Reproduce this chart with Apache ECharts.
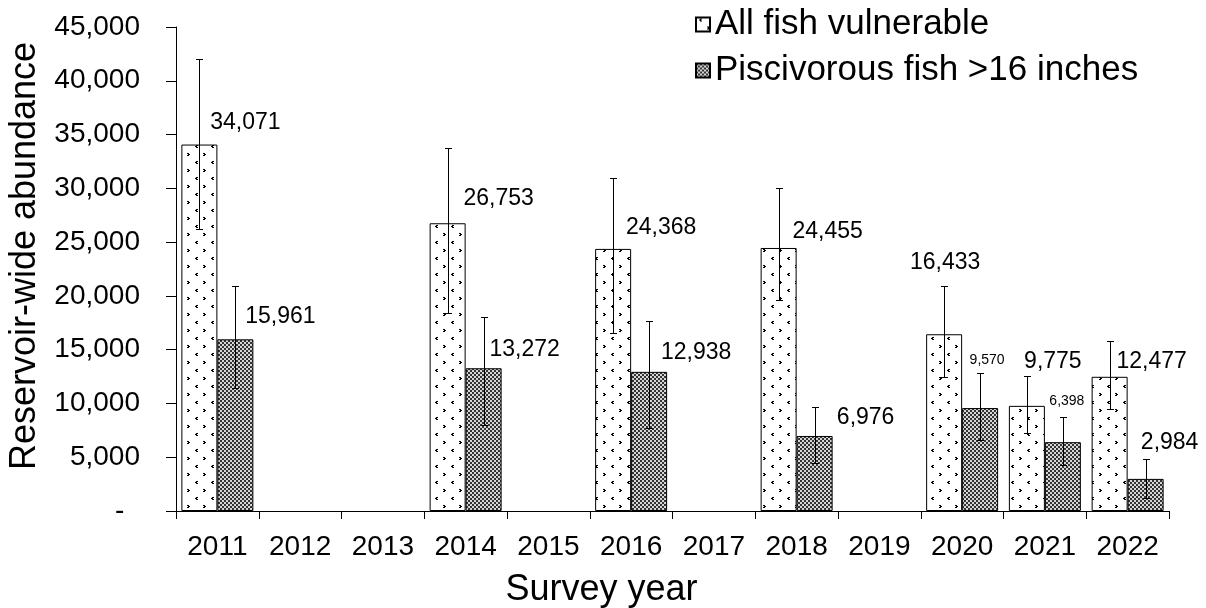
<!DOCTYPE html>
<html>
<head>
<meta charset="utf-8">
<script src="https://cdn.jsdelivr.net/npm/echarts@6/dist/echarts.min.js"></script>
<style>
  html, body { margin: 0; padding: 0; background: #fff; }
  #chart { width: 1206px; height: 608px; }
</style>
</head>
<body>
<div id="chart"></div>
<script>
// Survey years on the category axis (years without a survey stay empty)
const years = ['2011', '2012', '2013', '2014', '2015', '2016', '2017', '2018', '2019', '2020', '2021', '2022'];

// All fish vulnerable: estimate and confidence limits
const allFish     = [34071, null, null, 26753, null, 24368, null, 24455, null, 16433, 9775, 12477];
const allFishLow  = [26200, null, null, 18380, null, 16520, null, 19620, null, 12490, 7220, 9450];
const allFishHigh = [42000, null, null, 33780, null, 30930, null, 30060, null, 20920, 12580, 15830];

// Piscivorous fish >16 inches: estimate and confidence limits
const piscFish     = [15961, null, null, 13272, null, 12938, null, 6976, null, 9570, 6398, 2984];
const piscFishLow  = [11460, null, null, 8000, null, 7750, null, 4430, null, 6600, 4280, 1200];
const piscFishHigh = [20950, null, null, 18070, null, 17660, null, 9700, null, 12860, 8710, 4800];

// Value axis ticks
const yMin = 0, yMax = 45000, yStep = 5000;

// Hand-placed data label nudges [dx, dy] and font sizes (layout only)
const allLabelNudge  = [[46, -10], null, null, [51, -13], null, [48, -10], null, [49, -5], null, [1, -60], [26, -33], [42, -4]];
const piscLabelNudge = [[45, -11], null, null, [41, -7], null, [47, -8], null, [51, -7], null, [7, -41], [4, -34], [24, -25]];
const piscLabelSize  = [23, null, null, 23, null, 23, null, 23, null, 14, 14, 23];

const FONT = "'Liberation Sans', Arial, sans-serif";

// Fill patterns: small chevrons on white, and a dark fine checker
function chevronPattern() {
  const c = document.createElement('canvas');
  c.width = 16; c.height = 16;
  const g = c.getContext('2d');
  g.fillStyle = '#fff'; g.fillRect(0, 0, 16, 16);
  g.fillStyle = '#000';
  const px = pts => pts.forEach(([x, y]) => g.fillRect(x, y, 1, 1));
  // "<" near the top left
  px([[4, 1], [5, 1], [3, 2], [4, 2], [4, 3], [5, 3]]);
  // ">" offset half a tile
  px([[11, 9], [12, 9], [12, 10], [13, 10], [11, 11], [12, 11]]);
  return c;
}
function checkerPattern() {
  const c = document.createElement('canvas');
  c.width = 4; c.height = 4;
  const g = c.getContext('2d');
  g.fillStyle = '#d6d6d6'; g.fillRect(0, 0, 4, 4);
  g.fillStyle = '#333';
  g.fillRect(0, 0, 2, 2); g.fillRect(2, 2, 2, 2);
  return c;
}
const allFill  = { image: chevronPattern(), repeat: 'repeat' };
const piscFill = { image: checkerPattern(), repeat: 'repeat' };

function fmt(v) { return v.toLocaleString('en-US'); }

function barData(values, nudges, sizes) {
  return values.map((v, i) => {
    if (v == null) return null;
    const fs = sizes ? sizes[i] : 23;
    return {
      value: v,
      label: { offset: nudges[i], fontSize: fs, lineHeight: fs }
    };
  });
}

function errorRows(low, high) {
  const rows = [];
  low.forEach((lo, i) => { if (lo != null) rows.push([i, lo, high[i]]); });
  return rows;
}

const BAND_FILL = 0.87; // share of a category band covered by the two bars

function errorRenderer(side) {
  return function (params, api) {
    const band = api.size([1, 0])[0];
    const shift = side * band * BAND_FILL / 4;
    const lo = api.coord([api.value(0), api.value(1)]);
    const hi = api.coord([api.value(0), api.value(2)]);
    const x = Math.round(lo[0] + shift) + 0.5;
    const y1 = Math.round(hi[1]) + 0.5, y2 = Math.round(lo[1]) + 0.5;
    const cap = 3.5;
    const style = { stroke: '#000', lineWidth: 1 };
    return {
      type: 'group',
      children: [
        { type: 'line', shape: { x1: x, y1: y1, x2: x, y2: y2 }, style },
        { type: 'line', shape: { x1: x - cap, y1: y1, x2: x + cap, y2: y1 }, style },
        { type: 'line', shape: { x1: x - cap, y1: y2, x2: x + cap, y2: y2 }, style }
      ]
    };
  };
}

const chart = echarts.init(document.getElementById('chart'), null, { renderer: 'canvas' });

chart.setOption({
  animation: false,
  backgroundColor: '#fff',
  textStyle: { fontFamily: FONT, color: '#000' },
  grid: { left: 176, right: 37, top: 27, bottom: 97, outerBoundsMode: 'none' },
  legend: {
    data: ['All fish vulnerable', 'Piscivorous fish >16 inches'],
    orient: 'vertical',
    left: 695,
    top: 7,
    padding: 0,
    itemWidth: 14,
    itemHeight: 14,
    itemGap: 11,
    icon: 'rect',
    textStyle: { fontFamily: FONT, fontSize: 35, color: '#000', lineHeight: 35 }
  },
  xAxis: {
    type: 'category',
    data: years,
    name: 'Survey year',
    nameLocation: 'middle',
    nameGap: 61,
    nameTextStyle: { fontFamily: FONT, fontSize: 36, color: '#000', padding: [0, 142, 0, 0] },
    axisLine: { lineStyle: { color: '#000', width: 1 } },
    axisTick: { show: true, length: 8, lineStyle: { color: '#000' } },
    axisLabel: { fontFamily: FONT, fontSize: 28, color: '#000', margin: 22, interval: 0 },
    splitLine: { show: false }
  },
  yAxis: {
    type: 'value',
    min: yMin, max: yMax, interval: yStep,
    name: 'Reservoir-wide abundance',
    nameLocation: 'middle',
    nameGap: 126,
    nameTextStyle: { fontFamily: FONT, fontSize: 36, color: '#000', padding: [0, 0, 0, 26] },
    axisLine: { show: true, lineStyle: { color: '#000', width: 1 } },
    axisTick: { show: true, length: 10, inside: false, lineStyle: { color: '#000' } },
    axisLabel: {
      fontFamily: FONT, fontSize: 28, color: '#000', margin: 36,
      formatter: v => (v === 0 ? '-  ' : fmt(v))
    },
    splitLine: { show: false }
  },
  series: [
    {
      name: 'All fish vulnerable',
      type: 'bar',
      barGap: '0%',
      barCategoryGap: '13%',
      data: barData(allFish, allLabelNudge, null),
      itemStyle: { color: allFill, borderColor: '#000', borderWidth: 1 },
      label: {
        show: true, position: 'top', distance: 0,
        fontFamily: FONT, color: '#000',
        formatter: p => fmt(p.value)
      },
      z: 2
    },
    {
      name: 'Piscivorous fish >16 inches',
      type: 'bar',
      barGap: '0%',
      barCategoryGap: '13%',
      data: barData(piscFish, piscLabelNudge, piscLabelSize),
      itemStyle: { color: piscFill, borderColor: '#000', borderWidth: 1 },
      label: {
        show: true, position: 'top', distance: 0,
        fontFamily: FONT, color: '#000',
        formatter: p => fmt(p.value)
      },
      z: 2
    },
    {
      name: 'allFishCI',
      type: 'custom',
      renderItem: errorRenderer(-1),
      data: errorRows(allFishLow, allFishHigh),
      encode: { x: 0, y: [1, 2] },
      z: 5, silent: true
    },
    {
      name: 'piscFishCI',
      type: 'custom',
      renderItem: errorRenderer(1),
      data: errorRows(piscFishLow, piscFishHigh),
      encode: { x: 0, y: [1, 2] },
      z: 5, silent: true
    }
  ]
});
</script>
</body>
</html>
